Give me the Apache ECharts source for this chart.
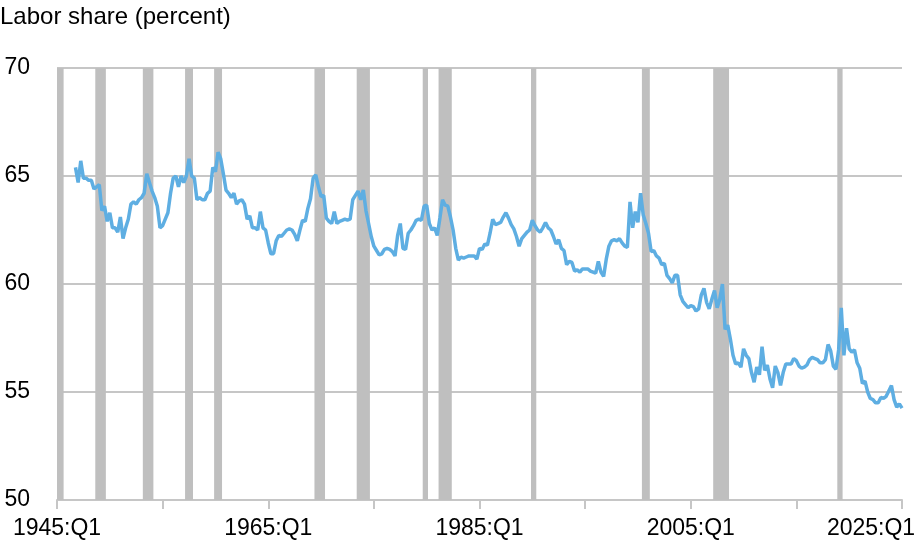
<!DOCTYPE html>
<html>
<head>
<meta charset="utf-8">
<script src="https://cdn.jsdelivr.net/npm/echarts@6/dist/echarts.min.js"></script>
<style>
  html, body { margin: 0; padding: 0; background: #fff; }
  #chart { width: 920px; height: 554px; }
</style>
</head>
<body>
<div id="chart"></div>
<script>
// quarterly axis runs 1945:Q1 .. 2025:Q1
const firstYear = 1945
const lastYear = 2025
const seriesStart = '1946:Q4'

// labor share, percent, one value per quarter from seriesStart
const laborShare = [
  65.4, 64.7, 65.7, 64.9, 64.9, 64.8, 64.8, 64.4, 64.5, 64.6,
  63.4, 63.6, 62.9, 63.3, 62.6, 62.6, 62.4, 63.1, 62.1, 62.6,
  63.0, 63.7, 63.8, 63.7, 63.9, 64.0, 64.2, 65.1, 64.7, 64.3,
  64.0, 63.6, 62.6, 62.7, 63.0, 63.3, 64.2, 64.9, 65.0, 64.5,
  65.0, 64.7, 65.0, 65.8, 65.0, 64.9, 63.9, 64.0, 63.9, 63.9,
  64.2, 64.3, 65.4, 65.2, 66.1, 65.8, 65.1, 64.35, 64.2, 64.0,
  64.2, 63.7, 63.85, 63.9, 63.7, 63.0, 63.15, 62.6, 62.6, 62.5,
  63.35, 62.6, 62.5, 61.9, 61.4, 61.4, 62.0, 62.25, 62.2, 62.35,
  62.5, 62.55, 62.5, 62.3, 62.0, 62.5, 62.95, 62.9, 63.5, 63.95,
  64.9, 65.05, 64.5, 64.05, 64.1, 63.05, 62.9, 62.8, 63.35, 62.8,
  62.9, 62.95, 63.0, 62.96, 63.0, 63.9, 64.1, 64.3, 63.9, 64.35,
  63.4, 62.8, 62.2, 61.75, 61.55, 61.35, 61.4, 61.6, 61.65, 61.6,
  61.5, 61.3, 62.25, 62.8, 61.65, 61.6, 62.35, 62.5, 62.7, 62.95,
  63.0, 62.95, 63.6, 63.65, 62.8, 62.5, 62.6, 62.25, 63.05, 63.9,
  63.65, 63.6, 63.1, 62.5, 61.65, 61.1, 61.25, 61.2, 61.25, 61.3,
  61.3, 61.3, 61.15, 61.65, 61.6, 61.85, 61.8, 62.35, 63.0, 62.75,
  62.8, 62.85, 63.1, 63.3, 63.05, 62.75, 62.55, 62.2, 61.75, 62.1,
  62.25, 62.4, 62.5, 62.95, 62.7, 62.5, 62.4, 62.6, 62.85, 62.6,
  62.5, 62.2, 61.85, 62.05, 61.65, 61.55, 60.9, 61.05, 61.0, 60.6,
  60.65, 60.55, 60.7, 60.7, 60.7, 60.6, 60.55, 60.5, 61.05, 60.55,
  60.35, 61.15, 61.75, 62.0, 62.05, 62.0, 62.1, 61.9, 61.75, 61.7,
  63.8, 62.6, 63.35, 62.85, 64.2, 63.2, 62.8, 62.35, 61.5, 61.55,
  61.3, 61.2, 60.9, 60.95, 60.4, 60.25, 60.05, 60.4, 60.4, 59.5,
  59.2, 59.05, 58.9, 59.0, 58.95, 58.75, 58.85, 59.5, 59.8, 59.15,
  58.85, 59.3, 59.7, 58.9, 59.3, 60.0, 57.9, 58.1, 57.45, 56.7,
  56.3, 56.35, 56.15, 57.0, 56.7, 56.55, 55.9, 55.45, 56.15, 55.8,
  57.1, 56.0, 56.25, 55.6, 55.2, 56.2, 55.9, 55.3, 55.9, 56.3,
  56.3, 56.3, 56.55, 56.45, 56.2, 56.1, 56.15, 56.25, 56.5, 56.6,
  56.55, 56.5, 56.35, 56.35, 56.5, 57.2, 56.9, 56.2, 56.05, 56.95,
  58.9, 56.7, 57.95, 57.0, 56.85, 56.95, 56.35, 56.1, 55.4, 55.5,
  55.0, 54.7, 54.65, 54.5, 54.5, 54.75, 54.7, 54.8, 55.05, 55.3,
  54.65, 54.3, 54.45, 54.25
]

// shaded recession periods, first and last quarter
const recessions = [
  ['1945:Q1', '1945:Q3'],
  ['1948:Q4', '1949:Q3'],
  ['1953:Q2', '1954:Q1'],
  ['1957:Q2', '1957:Q4'],
  ['1960:Q1', '1960:Q3'],
  ['1969:Q3', '1970:Q2'],
  ['1973:Q3', '1974:Q3'],
  ['1979:Q4', '1980:Q1'],
  ['1981:Q2', '1982:Q2'],
  ['1990:Q1', '1990:Q2'],
  ['2000:Q3', '2001:Q1'],
  ['2007:Q2', '2008:Q3'],
  ['2019:Q1', '2019:Q2'],
]

const yMin = 50
const yMax = 70
const yStep = 5
const tickEvery = 40   // quarters between ticks (10 years)
const labelEvery = 80  // quarters between labels (20 years)

// quarter label <-> index on the x axis (0 = 1945:Q1)
function qIndex(label) {
  const [y, q] = label.split(':Q').map(Number)
  return (y - firstYear) * 4 + (q - 1)
}
function qLabel(i) {
  return (firstYear + Math.floor(i / 4)) + ':Q' + (i % 4 + 1)
}

const xMax = qIndex(lastYear + ':Q1')
const startIdx = qIndex(seriesStart)
const lineData = laborShare.map((v, i) => [startIdx + i, v])
const recessionAreas = recessions.map(r => [
  { xAxis: qIndex(r[0]) - 0.5 },
  { xAxis: qIndex(r[1]) + 0.5 },
])

const font = 'Liberation Sans, Arial, sans-serif'
const gridGray = '#c6c6c6'
const chart = echarts.init(document.getElementById('chart'))

chart.setOption({
  animation: false,
  backgroundColor: '#fff',
  textStyle: { fontFamily: font },
  title: {
    text: 'Labor share (percent)',
    left: 0,
    top: 5,
    padding: 0,
    textStyle: { fontFamily: font, fontSize: 24, fontWeight: 'normal', color: '#000' },
  },
  grid: { left: 57, right: 18, top: 68, bottom: 54, outerBoundsMode: 'none' },
  xAxis: {
    type: 'value',
    min: 0,
    max: xMax,
    interval: tickEvery,
    axisLine: { show: true, onZero: false, lineStyle: { color: gridGray, width: 2 } },
    axisTick: { show: true, length: 9, lineStyle: { color: gridGray, width: 2 } },
    axisLabel: {
      margin: 17,
      fontSize: 23,
      color: '#000',
      fontFamily: font,
      formatter: v => {
        if (v % labelEvery !== 0) return ''
        return v === xMax ? '{e|' + qLabel(v) + '}' : qLabel(v)
      },
      // last label sits left of its tick so it stays inside the frame
      rich: { e: { fontSize: 23, color: '#000', fontFamily: font, padding: [0, 62, 0, 0] } },
    },
    splitLine: { show: false },
  },
  yAxis: {
    type: 'value',
    min: yMin,
    max: yMax,
    interval: yStep,
    axisLine: { show: false },
    axisTick: { show: false },
    axisLabel: { margin: 27, fontSize: 23, color: '#000', fontFamily: font },
    splitLine: { lineStyle: { color: gridGray, width: 2 } },
  },
  series: [
    {
      name: 'Recession',
      type: 'line',
      data: [],
      silent: true,
      z: 1,
      markArea: {
        silent: true,
        itemStyle: { color: '#bfbfbf', opacity: 1 },
        data: recessionAreas,
      },
    },
    {
      name: 'Labor share',
      type: 'line',
      data: lineData,
      showSymbol: false,
      symbol: 'none',
      lineStyle: { color: '#5eaee2', width: 3.5 },
      z: 3,
    },
  ],
})
</script>
</body>
</html>
